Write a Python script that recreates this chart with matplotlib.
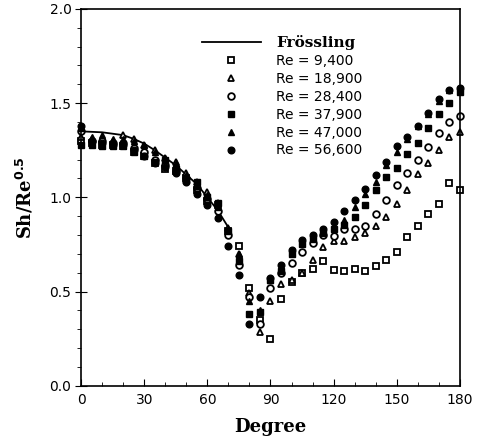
import matplotlib
matplotlib.use('Agg')
import matplotlib.pyplot as plt
from matplotlib.ticker import MultipleLocator
import numpy as np

# Froessling theory line
frs_deg = [0, 10, 20, 25, 30, 35, 40, 45, 50, 55, 60, 65, 70]
frs_val = [1.35, 1.345, 1.33, 1.31, 1.285, 1.25, 1.21, 1.17, 1.12, 1.07, 1.0, 0.93, 0.84]

deg = list(range(0, 185, 5))

re_9400 = [1.30, 1.29, 1.28, 1.28, 1.27, 1.24, 1.22, 1.18, 1.15, 1.14, 1.10, 1.04, 0.98, 0.96, 0.82,
           0.74, 0.52, 0.35, 0.25, 0.46, 0.55, 0.60, 0.62, 0.66, 0.616, 0.61, 0.62, 0.607, 0.634,
           0.67, 0.71, 0.79, 0.846, 0.91, 0.966, 1.074, 1.037]
re_18900 = [1.32, 1.31, 1.31, 1.30, 1.33, 1.31, 1.28, 1.25, 1.21, 1.19, 1.13, 1.08, 1.03, 0.97, 0.84,
            0.70, 0.49, 0.285, 0.448, 0.54, 0.56, 0.60, 0.67, 0.736, 0.766, 0.77, 0.79, 0.81, 0.85,
            0.896, 0.966, 1.037, 1.126, 1.18, 1.253, 1.32, 1.345]
re_28400 = [1.35, 1.30, 1.30, 1.29, 1.29, 1.26, 1.24, 1.20, 1.17, 1.14, 1.10, 1.05, 0.99, 0.93, 0.80,
            0.64, 0.47, 0.33, 0.52, 0.60, 0.65, 0.708, 0.76, 0.80, 0.796, 0.83, 0.83, 0.85, 0.913,
            0.988, 1.067, 1.13, 1.20, 1.265, 1.34, 1.40, 1.43]
re_37900 = [1.28, 1.28, 1.27, 1.27, 1.27, 1.24, 1.22, 1.19, 1.20, 1.15, 1.09, 1.08, 1.00, 0.97, 0.82,
            0.66, 0.38, 0.39, 0.56, 0.61, 0.70, 0.75, 0.78, 0.81, 0.83, 0.855, 0.896, 0.96, 1.04,
            1.11, 1.155, 1.23, 1.29, 1.37, 1.444, 1.50, 1.56]
re_47000 = [1.37, 1.32, 1.33, 1.31, 1.31, 1.30, 1.28, 1.24, 1.21, 1.18, 1.12, 1.06, 1.01, 0.95, 0.83,
            0.70, 0.45, 0.40, 0.56, 0.63, 0.71, 0.77, 0.80, 0.83, 0.85, 0.88, 0.95, 1.02, 1.08,
            1.17, 1.24, 1.31, 1.38, 1.44, 1.51, 1.57, 1.58]
re_56600 = [1.38, 1.30, 1.29, 1.28, 1.28, 1.25, 1.22, 1.18, 1.16, 1.13, 1.08, 1.02, 0.96, 0.89, 0.74,
            0.59, 0.33, 0.47, 0.57, 0.64, 0.72, 0.775, 0.80, 0.83, 0.87, 0.93, 0.985, 1.045, 1.12,
            1.19, 1.27, 1.32, 1.38, 1.45, 1.52, 1.57, 1.58]

labels = ['Re = 9,400', 'Re = 18,900', 'Re = 28,400', 'Re = 37,900', 'Re = 47,000', 'Re = 56,600']

fig = plt.figure(figsize=(4.83, 4.41), dpi=100)
ax = fig.add_axes([0.168, 0.125, 0.784, 0.855])

line, = ax.plot(frs_deg, frs_val, 'k-', lw=1.3, label='Frössling')

ms = 4.8
styles = [
    dict(marker='s', mfc='white', mec='black', mew=1.3),
    dict(marker='^', mfc='white', mec='black', mew=1.3),
    dict(marker='o', mfc='white', mec='black', mew=1.3),
    dict(marker='s', mfc='black', mec='black', mew=1.0),
    dict(marker='^', mfc='black', mec='black', mew=1.0),
    dict(marker='o', mfc='black', mec='black', mew=1.0),
]
series = [re_9400, re_18900, re_28400, re_37900, re_47000, re_56600]
handles = [line]
for vals, st, lab in zip(series, styles, labels):
    h, = ax.plot(deg, vals, ls='none', ms=ms, label=lab, clip_on=False, **st)
    handles.append(h)

ax.set_xlim(0, 180)
ax.set_ylim(0, 2.0)
ax.xaxis.set_major_locator(MultipleLocator(30))
ax.xaxis.set_minor_locator(MultipleLocator(10))
ax.yaxis.set_major_locator(MultipleLocator(0.5))
ax.yaxis.set_minor_locator(MultipleLocator(0.1))
ax.yaxis.set_major_formatter(plt.FormatStrFormatter('%.1f'))
ax.tick_params(axis='x', which='major', direction='in', length=5, labelsize=10, pad=5)
ax.tick_params(axis='x', which='minor', direction='in', length=3)
ax.tick_params(axis='y', which='major', direction='inout', length=8, labelsize=10, pad=3)
ax.tick_params(axis='y', which='minor', direction='out', length=3)
ax.tick_params(top=False, right=False)
for s in ax.spines.values():
    s.set_linewidth(1.2)

ax.set_xlabel('Degree', fontfamily='DejaVu Serif', fontweight='bold', fontsize=13, labelpad=8)
ax.set_ylabel(r'Sh/Re$^{\mathbf{0.5}}$', fontfamily='DejaVu Serif', fontweight='bold', fontsize=13, labelpad=10)

leg = ax.legend(handles=handles, loc='upper left', bbox_to_anchor=(0.305, 0.945),
                frameon=False, fontsize=10, handlelength=4.2, handletextpad=1.1,
                labelspacing=0.28, borderaxespad=0)
txts = leg.get_texts()
txts[0].set_fontfamily('DejaVu Serif')
txts[0].set_fontweight('bold')
txts[0].set_fontsize(11)

fig.savefig('out.png', dpi=100)
